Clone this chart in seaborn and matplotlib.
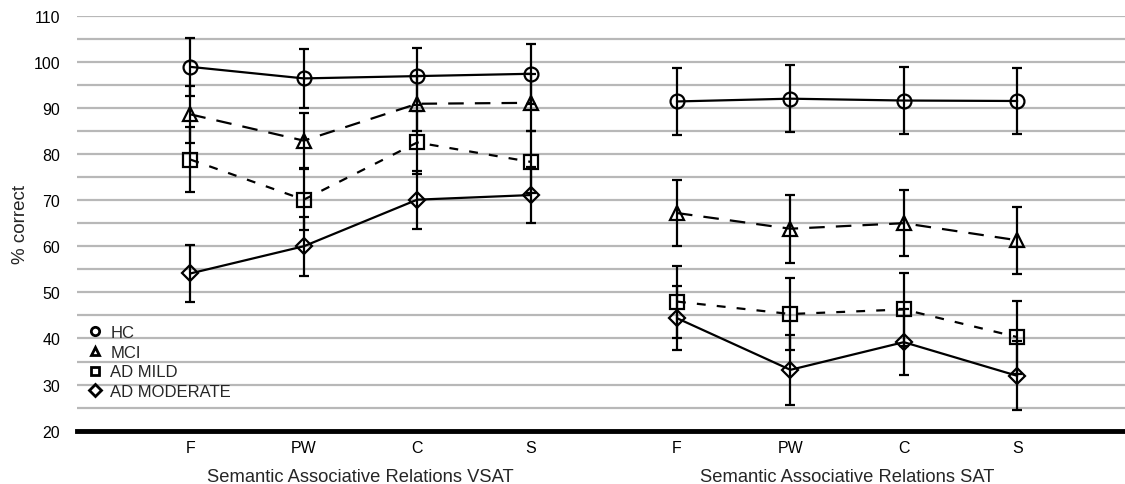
import numpy as np
import pandas as pd
import matplotlib
matplotlib.use("Agg")
import matplotlib.pyplot as plt
import seaborn as sns
from matplotlib.lines import Line2D

categories = ["F", "PW", "C", "S"]
tests = ["VSAT", "SAT"]
groups = ["HC", "MCI", "AD MILD", "AD MODERATE"]

# mean % correct, VSAT then SAT
hc_vsat = [98.9, 96.4, 96.9, 97.4]
hc_sat = [91.4, 92.0, 91.6, 91.5]
mci_vsat = [88.6, 82.9, 90.9, 91.1]
mci_sat = [67.2, 63.8, 65.0, 61.3]
mild_vsat = [78.8, 70.1, 82.5, 78.3]
mild_sat = [48.0, 45.3, 46.3, 40.3]
mod_vsat = [54.1, 60.0, 70.1, 71.1]
mod_sat = [44.4, 33.2, 39.2, 31.9]

# error bar half-lengths
hc_vsat_err = [6.3, 6.4, 6.2, 6.5]
hc_sat_err = [7.2, 7.3, 7.2, 7.2]
mci_vsat_err = [6.2, 6.0, 6.0, 6.2]
mci_sat_err = [7.2, 7.4, 7.2, 7.3]
mild_vsat_err = [7.0, 6.6, 6.8, 6.8]
mild_sat_err = [7.8, 7.9, 8.0, 7.9]
mod_vsat_err = [6.2, 6.4, 6.3, 6.0]
mod_sat_err = [7.0, 7.6, 7.2, 7.5]

xlabels = ["Semantic Associative Relations VSAT", "Semantic Associative Relations SAT"]

series = {
    "HC": (hc_vsat, hc_sat, hc_vsat_err, hc_sat_err),
    "MCI": (mci_vsat, mci_sat, mci_vsat_err, mci_sat_err),
    "AD MILD": (mild_vsat, mild_sat, mild_vsat_err, mild_sat_err),
    "AD MODERATE": (mod_vsat, mod_sat, mod_vsat_err, mod_sat_err),
}
markers = {"HC": "o", "MCI": "^", "AD MILD": "s", "AD MODERATE": "D"}
msizes = {"HC": 10, "MCI": 9.5, "AD MILD": 9.5, "AD MODERATE": 8}
dashes = {"HC": "-", "MCI": (0, (7, 5)), "AD MILD": (0, (4, 5)), "AD MODERATE": "-"}

offset = 4.29
rows = []
for g, (v1, v2, e1, e2) in series.items():
    for i, c in enumerate(categories):
        rows.append(dict(group=g, test="VSAT", cat=c, pos=i, val=v1[i], err=e1[i]))
        rows.append(dict(group=g, test="SAT", cat=c, pos=i + offset, val=v2[i], err=e2[i]))
df = pd.DataFrame(rows)

sns.set_theme(style="white")
plt.rcParams["font.family"] = ["Liberation Sans", "DejaVu Sans"]

fig = plt.figure(figsize=(11.25, 4.85), dpi=100)
ax = fig.add_axes([0.0684, 0.1099, 0.9316, 0.8557])

for y in np.arange(25, 111, 5):
    ax.axhline(y, color="#b8b8b8", lw=1.6, zorder=0)

for g in groups:
    for t in tests:
        sub = df[(df.group == g) & (df.test == t)].sort_values("pos")
        ax.errorbar(sub.pos, sub.val, yerr=sub.err, fmt="none", ecolor="black",
                    elinewidth=1.6, capsize=3.5, capthick=1.6, zorder=2)
        sns.lineplot(data=sub, x="pos", y="val", ax=ax, color="black", lw=1.6,
                     linestyle=dashes[g], marker=markers[g], markersize=msizes[g],
                     markerfacecolor="none", markeredgecolor="black", markeredgewidth=1.6,
                     estimator=None, sort=False, legend=False, zorder=3)

ax.set_xlim(-1.0, 8.24)
ax.set_ylim(20, 110)
ax.set_yticks(np.arange(20, 111, 10))
ticks = list(range(4)) + [i + offset for i in range(4)]
ax.set_xticks(ticks)
ax.set_xticklabels(categories * 2)
ax.tick_params(axis="both", length=0, labelsize=11.5, colors="black", pad=12)
ax.tick_params(axis="x", pad=7)
for s in ["left", "right", "top"]:
    ax.spines[s].set_visible(False)
ax.spines["bottom"].set_linewidth(3.5)
ax.spines["bottom"].set_color("black")
ax.set_xlabel("")
ax.set_ylabel("")
ax.text(-0.0534, 0.5, "% correct", transform=ax.transAxes, rotation=90,
        ha="center", va="center", fontsize=13.5)

ax.text(1.5, -0.110, xlabels[0], transform=ax.get_xaxis_transform(), ha="center", va="center", fontsize=13.2)
ax.text(1.5 + offset, -0.110, xlabels[1], transform=ax.get_xaxis_transform(), ha="center", va="center", fontsize=13.2)

handles = [Line2D([], [], color="black", marker=markers[g], linestyle="none", markersize=6,
                  markerfacecolor="none", markeredgewidth=2) for g in groups]
ax.legend(handles, groups, loc="lower left", bbox_to_anchor=(0.0, 0.048), frameon=False,
          fontsize=12, handlelength=0.8, handletextpad=0.5, labelspacing=0.28, borderaxespad=0.3)

fig.savefig("out.png", dpi=100)
